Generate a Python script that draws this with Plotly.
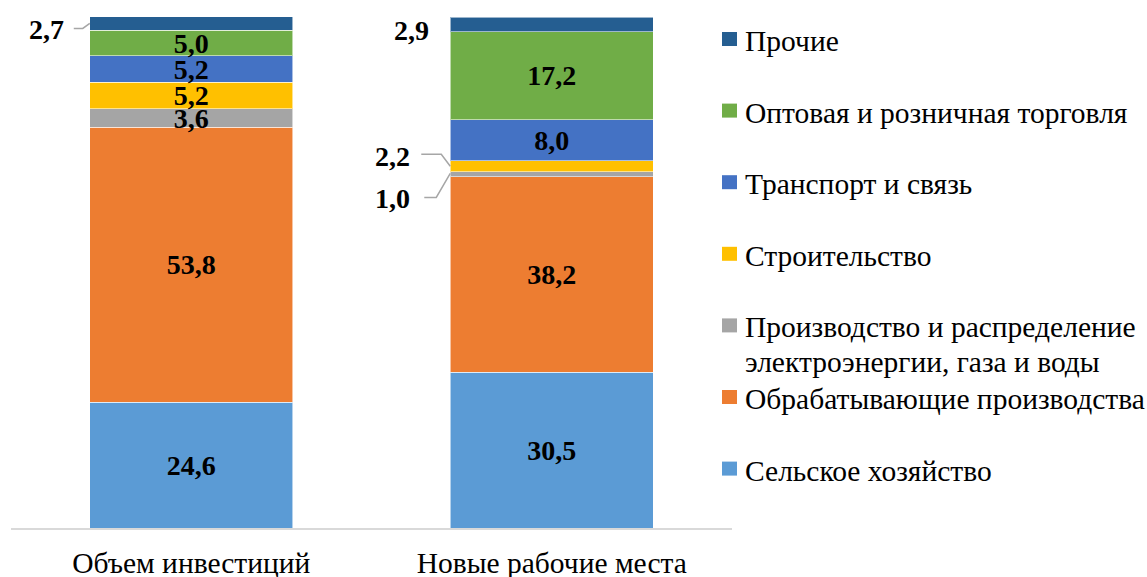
import plotly.graph_objects as go

# ---------------- data ----------------
categories = ["Объем инвестиций", "Новые рабочие места"]

series_names = [
    "Сельское хозяйство",
    "Обрабатывающие производства",
    "Производство и распределение<br>электроэнергии, газа и воды",
    "Строительство",
    "Транспорт и связь",
    "Оптовая и розничная торговля",
    "Прочие",
]
agriculture = [24.6, 30.5]
manufacturing = [53.8, 38.2]
energy = [3.6, 1.0]
construction = [5.2, 2.2]
transport = [5.2, 8.0]
trade = [5.0, 17.2]
other = [2.7, 2.9]
series_values = [agriculture, manufacturing, energy, construction, transport, trade, other]

# ---------------- style ----------------
colors = ["#5B9BD5", "#ED7D31", "#A5A5A5", "#FFC000", "#4472C4", "#70AD47", "#255E91"]
FONT = "Liberation Serif"
FS = 28          # data labels
FS_TXT = 29.5    # legend and category labels
BAR_W = 0.563
W, H = 1147, 577
ML, MR, MT, MB = 11, 415, 17, 49
PW, PH = W - ML - MR, H - MT - MB

# outside-label placement (pixels, up positive) keyed by (series index, category index)
outside_style = {
    (6, 0): dict(dx=-24, dy=-6, leader=[(-16, -5), (-7, -5), (0, 0)]),
    (6, 1): dict(dx=-19, dy=-6, leader=None),
    (3, 1): dict(dx=-38, dy=10, leader=[(-29, 12), (-9, 12), (0, 0)]),
    (2, 1): dict(dx=-38, dy=-24, leader=[(-26, -23), (-14, -23), (0, 1)]),
}


def fmt(v):
    return f"{v:.1f}".replace(".", ",")


xpos = list(range(len(categories)))
fig = go.Figure()
annotations = []
shapes = []

cum = [0.0] * len(categories)
for si, (name, vals, col) in enumerate(zip(series_names, series_values, colors)):
    texts = []
    for ci, v in enumerate(vals):
        if v < 3:
            texts.append("")
            st = outside_style.get((si, ci), dict(dx=-20, dy=0, leader=None))
            center = cum[ci] + v / 2
            edge = xpos[ci] - BAR_W / 2
            annotations.append(dict(
                x=edge, y=center, xref="x", yref="y", text=fmt(v), showarrow=False,
                xanchor="right", yanchor="middle", xshift=st["dx"], yshift=st["dy"],
                font=dict(family=FONT, size=FS, color="black", weight="bold"),
            ))
            if st["leader"]:
                pts = st["leader"]
                path = "M " + " L ".join(f"{px},{py}" for px, py in pts)
                shapes.append(dict(
                    type="path", xref="x", yref="y", xsizemode="pixel", ysizemode="pixel",
                    xanchor=edge, yanchor=center, path=path,
                    line=dict(color="#A6A6A6", width=1.5),
                ))
        else:
            texts.append(fmt(v))
    fig.add_trace(go.Bar(
        x=xpos, y=vals, name=name, width=BAR_W,
        marker=dict(color=col, line=dict(color="rgba(255,255,255,0.55)", width=1)),
        text=texts, textposition="inside", insidetextanchor="middle",
        constraintext="none",
        insidetextfont=dict(family=FONT, size=FS, color="black", weight="bold"),
        hoverinfo="skip", showlegend=False,
    ))
    cum = [c + v for c, v in zip(cum, vals)]


# ---------------- manual legend (top item = last series) ----------------
def px2paper_x(px):
    return (px - ML) / PW


def px2paper_y(py):
    return (H - MB - py) / PH


LEG_SQ_X0, LEG_SQ_X1 = 722, 737
LEG_TEXT_X = 743
ROW0, ROW_STEP, SQ = 39, 71.6, 14
LINE_GAP = 35
for row, si in enumerate(reversed(range(len(series_names)))):
    cy = ROW0 + ROW_STEP * row
    shapes.append(dict(
        type="rect", xref="paper", yref="paper",
        x0=px2paper_x(LEG_SQ_X0), x1=px2paper_x(LEG_SQ_X1),
        y0=px2paper_y(cy + SQ / 2), y1=px2paper_y(cy - SQ / 2),
        fillcolor=colors[si], line=dict(width=0),
    ))
    for li, line in enumerate(series_names[si].split("<br>")):
        annotations.append(dict(
            x=px2paper_x(LEG_TEXT_X), y=px2paper_y(cy + 2 + li * LINE_GAP),
            xref="paper", yref="paper",
            text=line, showarrow=False, xanchor="left", yanchor="middle",
            align="left", font=dict(family=FONT, size=FS_TXT, color="black"),
        ))

fig.update_layout(
    barmode="stack",
    width=W, height=H,
    margin=dict(l=ML, r=MR, t=MT, b=MB, autoexpand=False),
    paper_bgcolor="white", plot_bgcolor="white",
    annotations=annotations, shapes=shapes,
    xaxis=dict(
        range=[-0.5, len(categories) - 0.5], tickvals=xpos, ticktext=categories,
        showline=True, linecolor="#D9D9D9", linewidth=1.5, showgrid=False,
        zeroline=False, ticks="", ticklabelstandoff=8, automargin=False,
        tickfont=dict(family=FONT, size=FS_TXT, color="black"),
    ),
    yaxis=dict(range=[0, 100], visible=False, showgrid=False, zeroline=False,
               automargin=False),
    font=dict(family=FONT, color="black"),
)

fig.write_html("out.html", config={"displayModeBar": False},
               post_script="document.body.style.margin='0';")
